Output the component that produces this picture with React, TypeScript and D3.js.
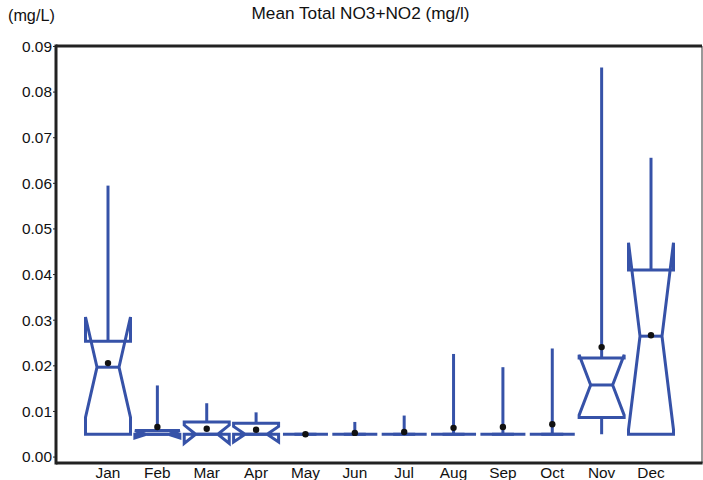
import React from "react";
import * as d3 from "d3";

const months = ["Jan", "Feb", "Mar", "Apr", "May", "Jun", "Jul", "Aug", "Sep", "Oct", "Nov", "Dec"];
const whiskerLo = [0.005, 0.005, 0.005, 0.005, 0.005, 0.005, 0.005, 0.005, 0.005, 0.005, 0.005, 0.005];
const q1 = [0.005, 0.005, 0.005, 0.005, 0.005, 0.005, 0.005, 0.005, 0.005, 0.005, 0.0087, 0.005];
const median = [0.0197, 0.005, 0.005, 0.005, 0.005, 0.005, 0.005, 0.005, 0.005, 0.005, 0.0158, 0.0265];
const q3 = [0.0254, 0.0058, 0.0077, 0.0074, 0.005, 0.005, 0.005, 0.005, 0.005, 0.005, 0.0217, 0.041];
const notchLo = [0.0087, 0.0042, 0.003, 0.0033, 0.005, 0.005, 0.005, 0.005, 0.005, 0.005, 0.0092, 0.006];
const notchHi = [0.0307, 0.0058, 0.007, 0.0067, 0.005, 0.005, 0.005, 0.005, 0.005, 0.005, 0.0224, 0.047];
const whiskerHi = [0.0595, 0.0157, 0.0118, 0.0098, 0.005, 0.0077, 0.0091, 0.0226, 0.0197, 0.0238, 0.0854, 0.0656];
const means = [0.0206, 0.0066, 0.0062, 0.006, 0.005, 0.0053, 0.0055, 0.0064, 0.0066, 0.0072, 0.0241, 0.0267];
const yTicks = [0, 0.01, 0.02, 0.03, 0.04, 0.05, 0.06, 0.07, 0.08, 0.09];

const W = 703;
const H = 480;
const left = 56;
const right = 702;
const top = 46;
const bottom = 463;
const BLUE = "#3652a8";
const FONT = "'Liberation Sans', Arial, sans-serif";

export default function App() {
  const x = d3.scalePoint<string>().domain(months).range([108, 651]);
  const y = d3.scaleLinear().domain([-0.0013, 0.0901]).range([bottom, top]);
  const halfW = 22.5;
  const halfN = 11;

  const boxes = months.map((m, i) => {
    const cx = x(m) as number;
    const L = cx - halfW;
    const R = cx + halfW;
    const nL = cx - halfN;
    const nR = cx + halfN;
    const pts: [number, number][] = [
      [L, y(q1[i])],
      [L, y(notchLo[i])],
      [nL, y(median[i])],
      [L, y(notchHi[i])],
      [L, y(q3[i])],
      [R, y(q3[i])],
      [R, y(notchHi[i])],
      [nR, y(median[i])],
      [R, y(notchLo[i])],
      [R, y(q1[i])],
    ];
    const path = d3.line()(pts) + "Z";
    return (
      <g key={m}>
        {whiskerHi[i] > q3[i] && (
          <line x1={cx} x2={cx} y1={y(q3[i])} y2={y(whiskerHi[i])} stroke={BLUE} strokeWidth={3} />
        )}
        {whiskerLo[i] < q1[i] && (
          <line x1={cx} x2={cx} y1={y(q1[i])} y2={y(whiskerLo[i])} stroke={BLUE} strokeWidth={3} />
        )}
        <path d={path} fill="none" stroke={BLUE} strokeWidth={3} strokeLinejoin="miter" />
        <line x1={nL} x2={nR} y1={y(median[i])} y2={y(median[i])} stroke={BLUE} strokeWidth={3} />
        <circle cx={cx} cy={y(means[i])} r={3.2} fill="#111" />
      </g>
    );
  });

  return (
    <svg width={W} height={H} style={{ position: "absolute", left: 0, top: 0, background: "#fff" }} fontFamily={FONT}>
      <text x={360.5} y={19} textAnchor="middle" fontSize={17.2} fill="#111">
        Mean Total NO3+NO2 (mg/l)
      </text>
      <text x={8} y={21} fontSize={16.2} fill="#111">
        (mg/L)
      </text>
      {boxes}
      <line x1={right} x2={right} y1={top} y2={bottom} stroke="#555" strokeWidth={1.2} />
      <line x1={left} x2={right} y1={top} y2={top} stroke="#222" strokeWidth={3} />
      <line x1={left} x2={right + 0.6} y1={bottom} y2={bottom} stroke="#222" strokeWidth={3} />
      <line x1={left} x2={left} y1={top - 1.5} y2={bottom + 1.5} stroke="#222" strokeWidth={3} />
      {yTicks.map((t) => (
        <g key={t}>
          <line x1={left - 3} x2={left} y1={y(t)} y2={y(t)} stroke="#222" strokeWidth={1} />
          <text x={52} y={y(t)} dy="0.35em" textAnchor="end" fontSize={15.4} fill="#111">
            {d3.format(".2f")(t)}
          </text>
        </g>
      ))}
      {months.map((m) => (
        <text key={m} x={x(m) as number} y={478} textAnchor="middle" fontSize={15.4} fill="#111">
          {m}
        </text>
      ))}
    </svg>
  );
}
